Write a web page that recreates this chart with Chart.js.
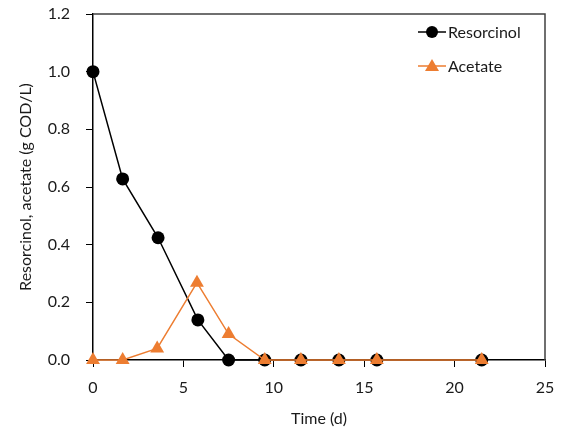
<!DOCTYPE html>
<html>
<head>
<meta charset="utf-8">
<script src="https://cdn.jsdelivr.net/npm/chart.js@4"></script>
<style>
  html, body { margin: 0; padding: 0; background: #fff; }
  #wrap { width: 561px; height: 429px; position: relative; }
</style>
</head>
<body>
<div id="wrap"><canvas id="chart"></canvas></div>
<script>
  var resorcinolDays = [0, 1.64, 3.6, 5.8, 7.5, 9.5, 11.5, 13.6, 15.7, 21.5];
  var resorcinolValues = [1.0, 0.628, 0.424, 0.139, 0, 0, 0, 0, 0, 0];
  var acetateDays = [0, 1.64, 3.55, 5.75, 7.5, 9.5, 11.5, 13.6, 15.7, 21.5];
  var acetateValues = [0, 0, 0.04, 0.268, 0.09, 0, 0, 0, 0, 0];
  var seriesNames = ["Resorcinol", "Acetate"];
  var seriesColors = ["#000000", "#ED7D31"];

  var FONT = "Lato, 'Open Sans', sans-serif";
  var TEXT = "#1a1a1a";

  function toPoints(xs, ys) {
    return xs.map(function (x, i) { return { x: x, y: ys[i] }; });
  }

  // top and right edges of the plot frame
  var frame = {
    id: "frame",
    afterDatasetsDraw: function (chart) {
      var a = chart.chartArea, ctx = chart.ctx;
      ctx.save();
      ctx.strokeStyle = "#404040";
      ctx.lineWidth = 1.5;
      ctx.beginPath();
      ctx.moveTo(a.left, a.top);
      ctx.lineTo(a.right, a.top);
      ctx.lineTo(a.right, a.bottom);
      ctx.stroke();
      ctx.restore();
    }
  };

  // legend with line + marker, like the spreadsheet style
  var legend = {
    id: "customLegend",
    afterDraw: function (chart) {
      var ctx = chart.ctx;
      var rows = [
        { name: seriesNames[0], color: seriesColors[0], shape: "circle", y: 32 },
        { name: seriesNames[1], color: seriesColors[1], shape: "triangle", y: 66 }
      ];
      ctx.save();
      rows.forEach(function (r) {
        var x0 = 418, x1 = 446, cx = 432;
        ctx.strokeStyle = r.color;
        ctx.lineWidth = 1.5;
        ctx.beginPath();
        ctx.moveTo(x0, r.y);
        ctx.lineTo(x1, r.y);
        ctx.stroke();
        ctx.fillStyle = r.color;
        ctx.beginPath();
        if (r.shape === "circle") {
          ctx.arc(cx, r.y, 6, 0, Math.PI * 2);
        } else {
          ctx.moveTo(cx, r.y - 7);
          ctx.lineTo(cx + 7, r.y + 5);
          ctx.lineTo(cx - 7, r.y + 5);
          ctx.closePath();
        }
        ctx.fill();
        ctx.fillStyle = TEXT;
        ctx.font = "16px " + FONT;
        ctx.textBaseline = "middle";
        ctx.textAlign = "left";
        ctx.fillText(r.name, 448, r.y + 1);
      });
      ctx.restore();
    }
  };

  new Chart(document.getElementById("chart"), {
    type: "line",
    data: {
      datasets: [
        {
          label: seriesNames[0],
          data: toPoints(resorcinolDays, resorcinolValues),
          borderColor: seriesColors[0],
          backgroundColor: seriesColors[0],
          borderWidth: 1.5,
          pointStyle: "circle",
          pointRadius: 6.5,
          pointHoverRadius: 6.5,
          pointBorderWidth: 0,
          tension: 0,
          clip: false,
          order: 1
        },
        {
          label: seriesNames[1],
          data: toPoints(acetateDays, acetateValues),
          borderColor: seriesColors[1],
          backgroundColor: seriesColors[1],
          borderWidth: 1.5,
          pointStyle: "triangle",
          pointRadius: 8,
          pointHoverRadius: 8,
          pointBorderWidth: 0,
          tension: 0,
          clip: false,
          order: 0
        }
      ]
    },
    options: {
      responsive: true,
      maintainAspectRatio: false,
      animation: false,
      layout: { padding: { top: 14, right: 16, left: 0, bottom: 0 } },
      plugins: { legend: { display: false }, tooltip: { enabled: false } },
      scales: {
        x: {
          type: "linear",
          min: 0,
          max: 25,
          ticks: { stepSize: 5, color: TEXT, font: { family: FONT, size: 16 }, padding: 11 },
          grid: { drawOnChartArea: false, drawTicks: true, tickLength: 7, color: "#000", lineWidth: 1 },
          border: { display: true, color: "#000", width: 1.5 },
          title: { display: true, text: "Time (d)", color: TEXT, font: { family: FONT, size: 16 }, padding: { top: 4, bottom: 1 } },
          afterFit: function (s) { s.height = 69; s.paddingLeft = 0; s.paddingRight = 0; }
        },
        y: {
          min: 0,
          max: 1.2,
          ticks: {
            stepSize: 0.2,
            color: TEXT,
            font: { family: FONT, size: 16 },
            padding: 16,
            callback: function (v) { return v.toFixed(1); }
          },
          grid: { drawOnChartArea: false, drawTicks: true, tickLength: 7, color: "#000", lineWidth: 1 },
          border: { display: true, color: "#000", width: 1.5 },
          title: { display: true, text: "Resorcinol, acetate (g COD/L)", color: TEXT, font: { family: FONT, size: 16 }, padding: { top: 16, bottom: 6 } },
          afterFit: function (s) { s.width = 93; s.paddingTop = 0; s.paddingBottom = 0; }
        }
      }
    },
    plugins: [frame, legend]
  });
</script>
</body>
</html>
